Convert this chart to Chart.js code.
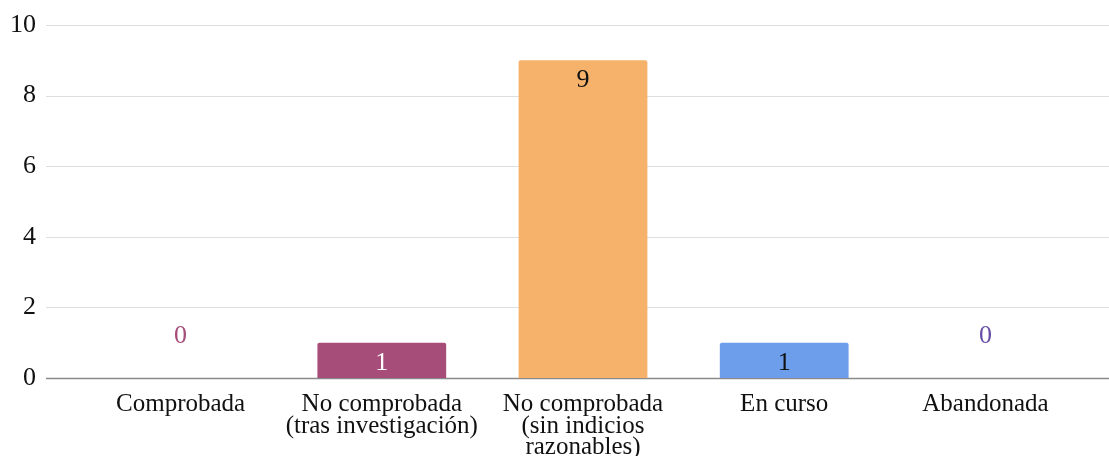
<!DOCTYPE html>
<html>
<head>
<meta charset="utf-8">
<script src="https://cdn.jsdelivr.net/npm/chart.js@4"></script>
<style>
  html, body { margin: 0; padding: 0; background: #fff; }
  #wrap { width: 1109px; height: 456px; }
</style>
</head>
<body>
<div id="wrap"><canvas id="chart"></canvas></div>
<script>
// chart data
const categories = [
  'Comprobada',
  ['No comprobada', '(tras investigación)'],
  ['No comprobada', '(sin indicios', 'razonables)'],
  'En curso',
  'Abandonada'
];
const counts = [0, 1, 9, 1, 0];
const barColors = ['#a64d79', '#a64d79', '#f6b26b', '#6d9eeb', '#674ea7'];
const valueLabelColors = ['#a64d79', '#ffffff', '#111111', '#111111', '#674ea7'];
const yTicks = [0, 2, 4, 6, 8, 10];

const FONT = "'Liberation Serif', 'Times New Roman', serif";

// horizontal grid lines run wider than the bar area
const gridPlugin = {
  id: 'wideGrid',
  beforeDatasetsDraw(chart) {
    const ctx = chart.ctx;
    const y = chart.scales.y;
    ctx.save();
    yTicks.forEach(v => {
      const py = Math.round(y.getPixelForValue(v)) + 0.5;
      ctx.beginPath();
      ctx.strokeStyle = v === 0 ? '#8a8a8a' : '#dedede';
      ctx.lineWidth = v === 0 ? 1.5 : 1.2;
      ctx.moveTo(46, py);
      ctx.lineTo(1109, py);
      ctx.stroke();
    });
    ctx.restore();
  }
};

// value labels: inside the bar top, or above the axis for zero
const valuePlugin = {
  id: 'valueLabels',
  afterDatasetsDraw(chart) {
    const ctx = chart.ctx;
    const meta = chart.getDatasetMeta(0);
    const y = chart.scales.y;
    ctx.save();
    ctx.font = '26px ' + FONT;
    ctx.textAlign = 'center';
    ctx.textBaseline = 'alphabetic';
    meta.data.forEach((bar, i) => {
      const v = counts[i];
      ctx.fillStyle = valueLabelColors[i];
      const by = v === 0 ? y.getPixelForValue(0) - 35 : bar.y + 27;
      ctx.fillText(String(v), bar.x, by);
    });
    ctx.restore();
  }
};

new Chart(document.getElementById('chart'), {
  type: 'bar',
  data: {
    labels: categories,
    datasets: [{
      data: counts,
      backgroundColor: barColors,
      borderRadius: 2,
      borderSkipped: 'bottom',
      barPercentage: 0.64,
      categoryPercentage: 1
    }]
  },
  options: {
    responsive: true,
    maintainAspectRatio: false,
    animation: false,
    layout: { padding: { top: 0, right: 23, left: 0, bottom: 0 } },
    plugins: {
      legend: { display: false },
      tooltip: { enabled: false }
    },
    scales: {
      x: {
        grid: { display: false, drawTicks: false },
        border: { display: false },
        ticks: {
          color: '#111',
          padding: 16,
          maxRotation: 0,
          autoSkip: false,
          font: { family: FONT, size: 25, lineHeight: 0.86 }
        },
        afterFit: s => { s.height = 78; }
      },
      y: {
        min: 0,
        max: 10,
        afterBuildTicks: s => { s.ticks = yTicks.map(v => ({ value: v })); },
        grid: { display: false, drawTicks: false },
        border: { display: false },
        ticks: {
          color: '#111',
          padding: 44,
          font: { family: FONT, size: 26 }
        },
        afterFit: s => { s.width = 80; }
      }
    }
  },
  plugins: [gridPlugin, valuePlugin, {
    id: 'fixTop',
    afterLayout(chart) {
      // keep the plot top at the "10" grid line
      const y = chart.scales.y;
      if (y.top !== 25) {
        y.top = 25;
        y.height = y.bottom - y.top;
        chart.chartArea.top = 25;
        chart.chartArea.height = chart.chartArea.bottom - 25;
        y.configure();
      }
    }
  }]
});
</script>
</body>
</html>
